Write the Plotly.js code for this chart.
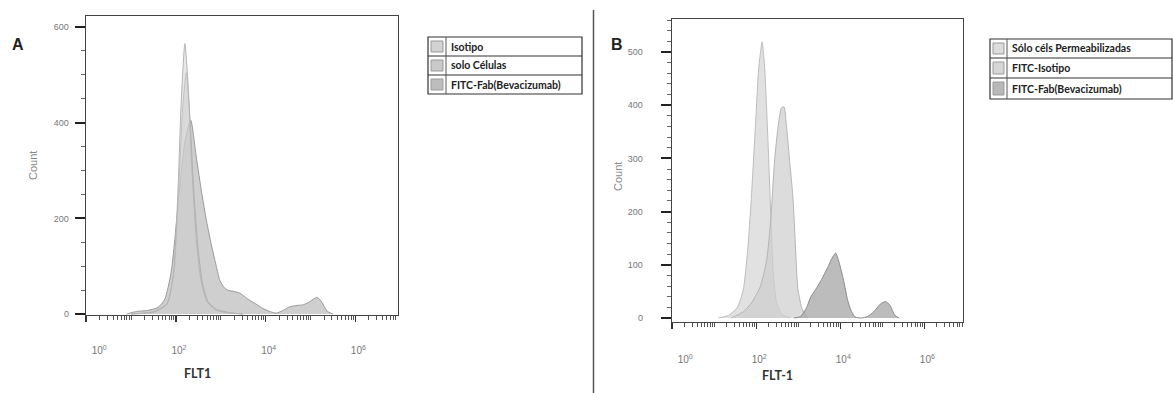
<!DOCTYPE html>
<html>
<head>
<meta charset="utf-8">
<script src="https://cdn.plot.ly/plotly-3.0.1.min.js"></script>
<style>html,body{margin:0;padding:0;background:#fff;}#chart{width:1173px;height:393px;}</style>
</head>
<body>
<div id="chart"></div>
<script>
// ---------- Panel A data (FLT1 intensity vs Count) ----------
const seriesNamesA = ["Isotipo", "solo Células", "FITC-Fab(Bevacizumab)"];
const isotipoA_x = [10, 32, 63, 87, 110, 132, 158, 188, 228, 288, 363, 501, 794, 1585, 3162];
const isotipoA_y = [0, 4, 20, 80, 250, 450, 565, 475, 300, 150, 70, 25, 8, 2, 0];
const celulasA_x = [10, 32, 63, 91, 115, 141, 170, 202, 245, 309, 390, 525, 794, 1585, 3162];
const celulasA_y = [0, 5, 22, 90, 260, 430, 505, 420, 270, 140, 65, 25, 10, 3, 0];
const fabA_x = [7.9, 12.6, 25, 40, 56, 79, 112, 158, 214, 282, 380, 479, 631, 794, 955, 1202, 1413, 1995, 2630, 3548, 4365, 6310, 8511, 12589, 17378, 25119, 33884, 50119, 66069, 89125, 120226, 141254, 177828, 234423, 316228];
const fabA_y = [0, 5, 8, 14, 30, 90, 230, 360, 405, 330, 250, 195, 140, 100, 70, 55, 50, 47, 44, 35, 29, 20, 12, 5, 2, 8, 15, 18, 19, 24, 32, 35, 25, 6, 0];

// ---------- Panel B data (FLT-1 intensity vs Count) ----------
const seriesNamesB = ["Sólo céls Permeabilizadas", "FITC-Isotipo", "FITC-Fab(Bevacizumab)"];
const permB_x = [12.6, 21.9, 35.5, 49, 63, 75.9, 95.5, 114.8, 138, 158.5, 190.5, 223.9, 251.2, 302, 398, 631];
const permB_y = [0, 5, 20, 53, 130, 222, 360, 470, 519, 470, 330, 184, 90, 30, 8, 0];
const isoB_x = [25.1, 50.1, 79.4, 125.9, 177.8, 223.9, 269.2, 331.1, 398.1, 457.1, 524.8, 631, 741.3, 851.1, 977.2, 1259, 1698];
const isoB_y = [0, 12, 30, 60, 110, 190, 290, 360, 395, 397, 360, 290, 230, 140, 55, 15, 0];
const fabB_x = [794, 1148, 1585, 1995, 2818, 3548, 5012, 6310, 7762, 9333, 12023, 14791, 17783, 22387, 31623, 44668, 63096, 89125, 120226, 151356, 199526, 251189];
const fabB_y = [0, 3, 20, 40, 58, 72, 95, 112, 122, 105, 70, 35, 15, 2, 0, 3, 12, 26, 31, 24, 5, 0];

// tick labels
const decadeVals = [1, 100, 10000, 1000000];
const decadeText = ["\u2003\u200310<sup>0</sup>", "10<sup>2</sup>", "10<sup>4</sup>", "10<sup>6</sup>"];
const yTicksA = [0, 200, 400, 600];
const yTicksB = [0, 100, 200, 300, 400, 500];

// ---------- geometry helpers (pixel -> paper) ----------
const W = 1173, H = 393;
const px = v => v / W;
const py = v => 1 - v / H;

const minorLog = [10, 1000, 100000, 10000000];
for (let d = 0; d < 7; d++) for (let k = 2; k <= 9; k++) minorLog.push(k * Math.pow(10, d));

function trace(x, y, name, xa, ya, fill, line) {
  return {x: x, y: y, name: name, xaxis: xa, yaxis: ya, type: 'scatter', mode: 'lines',
    fill: 'tozeroy', fillcolor: fill, line: {color: line, width: 1, shape: 'spline', smoothing: 0.6},
    showlegend: false, hoverinfo: 'skip'};
}

const data = [
  trace(fabA_x, fabA_y, seriesNamesA[2], 'x', 'y', 'rgba(168,168,168,0.55)', '#999999'),
  trace(celulasA_x, celulasA_y, seriesNamesA[1], 'x', 'y', 'rgba(200,200,200,0.5)', '#b0b0b0'),
  trace(isotipoA_x, isotipoA_y, seriesNamesA[0], 'x', 'y', 'rgba(210,210,210,0.5)', '#b5b5b5'),
  trace(permB_x, permB_y, seriesNamesB[0], 'x2', 'y2', 'rgba(215,215,215,0.75)', '#bdbdbd'),
  trace(isoB_x, isoB_y, seriesNamesB[1], 'x2', 'y2', 'rgba(205,205,205,0.7)', '#b5b5b5'),
  trace(fabB_x, fabB_y, seriesNamesB[2], 'x2', 'y2', 'rgba(165,165,165,0.75)', '#8a8a8a')
];

const xTickFont = {family: 'Liberation Sans, Arial, sans-serif', size: 10, color: '#777'};
const yTickFont = {family: 'Liberation Sans, Arial, sans-serif', size: 9, color: '#777'};

function xAxis(domain, range, standoff) {
  return {domain: domain, type: 'log', range: range, tickmode: 'array', tickvals: decadeVals, ticktext: decadeText,
    ticks: 'outside', ticklen: 6, tickwidth: 1.5, tickcolor: '#333', tickfont: xTickFont,
    ticklabelstandoff: standoff, ticklabelshift: 3,
    minor: {tickmode: 'array', tickvals: minorLog, ticks: 'outside', ticklen: 4, tickcolor: '#555', tickwidth: 1},
    showline: true, mirror: true, linecolor: '#444', linewidth: 1.3, showgrid: false, zeroline: false, fixedrange: true};
}
function yAxis(domain, range, vals, minorStep, standoff, anchor) {
  return {domain: domain, range: range, tickmode: 'array', tickvals: vals, anchor: anchor,
    ticks: 'outside', ticklen: 10, tickwidth: 2, tickcolor: '#222', tickfont: yTickFont,
    ticklabelstandoff: standoff,
    minor: {dtick: minorStep, ticks: 'outside', ticklen: 4, tickcolor: '#666', tickwidth: 1},
    showline: true, mirror: true, linecolor: '#444', linewidth: 1.3, showgrid: false, zeroline: false, fixedrange: true};
}

const shapes = [];
const annotations = [];

// divider
shapes.push({type: 'line', xref: 'paper', yref: 'paper', x0: px(593.5), x1: px(593.5), y0: py(10), y1: py(393), line: {color: '#555', width: 1.5}});

function legendTable(x0, x1, sepX, rowsY, names, swatchColors) {
  shapes.push({type: 'rect', xref: 'paper', yref: 'paper', x0: px(x0), x1: px(x1), y0: py(rowsY[0]), y1: py(rowsY[rowsY.length - 1]), line: {color: '#333', width: 1.2}, fillcolor: 'rgba(0,0,0,0)'});
  for (let i = 1; i < rowsY.length - 1; i++) {
    shapes.push({type: 'line', xref: 'paper', yref: 'paper', x0: px(x0), x1: px(x1), y0: py(rowsY[i]), y1: py(rowsY[i]), line: {color: '#333', width: 1.2}});
  }
  shapes.push({type: 'line', xref: 'paper', yref: 'paper', x0: px(sepX), x1: px(sepX), y0: py(rowsY[0]), y1: py(rowsY[rowsY.length - 1]), line: {color: '#555', width: 1}});
  for (let i = 0; i < names.length; i++) {
    const t = rowsY[i], b = rowsY[i + 1];
    shapes.push({type: 'rect', xref: 'paper', yref: 'paper', x0: px(x0 + 3), x1: px(sepX - 3), y0: py(t + 4), y1: py(b - 4), line: {color: '#999', width: 1}, fillcolor: swatchColors[i]});
    annotations.push({xref: 'paper', yref: 'paper', x: px(sepX + 3), y: py((t + b) / 2), xanchor: 'left', yanchor: 'middle', showarrow: false,
      text: names[i], font: {family: 'Lato, Open Sans, sans-serif', size: 10.5, color: '#222', weight: 'bold'}});
  }
}
legendTable(428, 582, 446, [37, 56, 75, 94], seriesNamesA, ['#d2d2d2', '#cacaca', '#bdbdbd']);
legendTable(990, 1172, 1007, [39, 58, 78, 99], seriesNamesB, ['#dddddd', '#d6d6d6', '#b8b8b8']);

// panel letters and axis titles
const letterFont = {family: 'Liberation Sans, Arial, sans-serif', size: 16, color: '#222', weight: 'bold'};
annotations.push({xref: 'paper', yref: 'paper', x: px(18), y: py(45), xanchor: 'center', yanchor: 'middle', showarrow: false, text: 'A', font: letterFont});
annotations.push({xref: 'paper', yref: 'paper', x: px(617), y: py(44), xanchor: 'center', yanchor: 'middle', showarrow: false, text: 'B', font: letterFont});
const xTitleFont = {family: 'Lato, Open Sans, sans-serif', size: 12.5, color: '#333', weight: 'bold'};
annotations.push({xref: 'paper', yref: 'paper', x: px(197), y: py(373), xanchor: 'center', yanchor: 'middle', showarrow: false, text: 'FLT1', font: xTitleFont});
annotations.push({xref: 'paper', yref: 'paper', x: px(777), y: py(375), xanchor: 'center', yanchor: 'middle', showarrow: false, text: 'FLT-1', font: xTitleFont});
const yTitleFont = {family: 'Liberation Sans, Arial, sans-serif', size: 11, color: '#888'};
annotations.push({xref: 'paper', yref: 'paper', x: px(33), y: py(166), xanchor: 'center', yanchor: 'middle', showarrow: false, text: 'Count', textangle: -90, font: yTitleFont});
annotations.push({xref: 'paper', yref: 'paper', x: px(618), y: py(177), xanchor: 'center', yanchor: 'middle', showarrow: false, text: 'Count', textangle: -90, font: yTitleFont});

const layout = {
  width: W, height: H, margin: {l: 0, r: 0, t: 0, b: 0},
  paper_bgcolor: '#fff', plot_bgcolor: '#fff', showlegend: false,
  xaxis: xAxis([px(86), px(398)], [-0.005, 6.95], 20),
  yaxis: yAxis([py(315), py(16)], [-2, 623], yTicksA, 50, 4, 'x'),
  xaxis2: Object.assign(xAxis([px(672), px(963)], [-0.005, 6.92], 22), {anchor: 'y2'}),
  yaxis2: yAxis([py(322), py(19)], [-7.5, 562], yTicksB, 20, 16, 'x2'),
  shapes: shapes,
  annotations: annotations
};

Plotly.newPlot('chart', data, layout, {displayModeBar: false, staticPlot: true});
</script>
</body>
</html>
